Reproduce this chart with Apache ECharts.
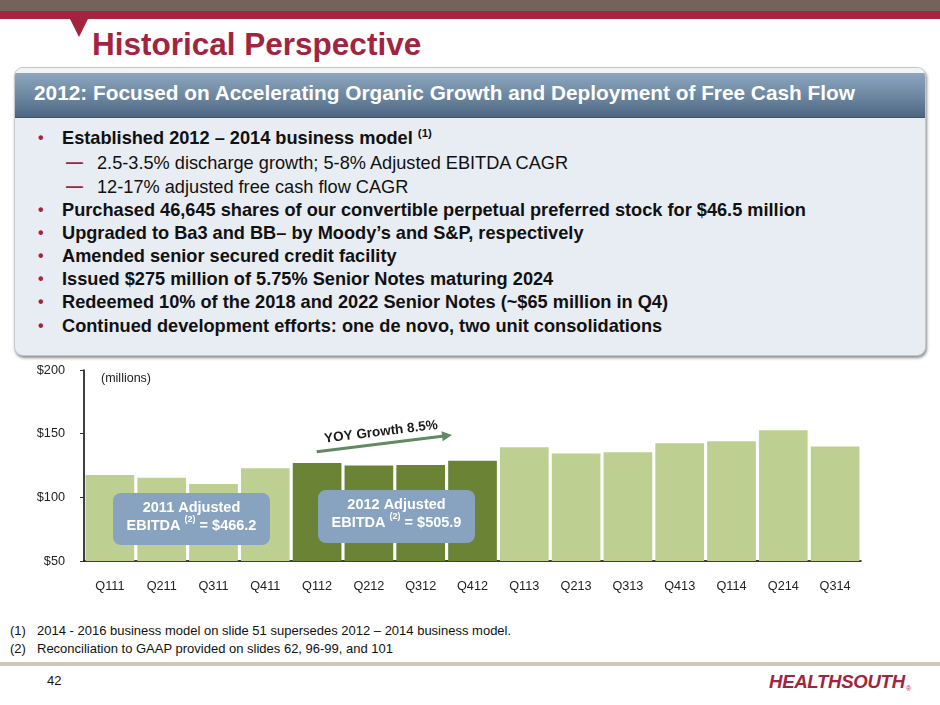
<!DOCTYPE html>
<html>
<head>
<meta charset="utf-8">
<script src="https://cdn.jsdelivr.net/npm/echarts@6/dist/echarts.min.js"></script>
<style>
  html, body { margin:0; padding:0; background:#fff; }
  #slide { position:relative; width:940px; height:705px; overflow:hidden; font-family:"Liberation Sans", Arial, sans-serif; }
  .abs { position:absolute; white-space:nowrap; }
  #bandTop { left:0; top:0; width:940px; height:11px; background:#74635A; }
  #bandRed { left:0; top:11px; width:940px; height:8px; background:#A3243F; }
  #notch { left:70px; top:19px; width:0; height:0; border-left:9px solid transparent; border-right:9px solid transparent; border-top:18px solid #A3243F; }
  #title { left:92px; top:29px; font-size:31.5px; line-height:31px; font-weight:bold; color:#A3243F; }
  #panel { left:14px; top:67px; width:910px; height:287px; background:#E8ECF3; border:1px solid #C4C8CE; border-radius:9px; box-shadow:1px 2px 3px rgba(0,0,0,0.45); overflow:hidden; }
  #panelTop { left:0; top:0; width:910px; height:5px; background:#F2F3F5; }
  #header { left:0; top:5px; width:910px; height:44px; background:linear-gradient(#8CA6C0, #6C86A0 55%, #4E6681); border-bottom:1px solid #3F536A; }
  #headText { left:34px; top:81px; font-size:20.8px; line-height:24px; font-weight:bold; color:#fff; }
  .bl { font-size:18.2px; line-height:24px; font-weight:bold; color:#111; }
  .dot { color:#A3243F; font-size:16px; line-height:24px; font-weight:bold; }
  .sub { font-size:18.2px; line-height:24px; color:#111; }
  .dash { color:#A3243F; font-size:17px; line-height:24px; font-weight:bold; }
  sup { font-size:11.5px; vertical-align:7px; line-height:0; }
  .fn { font-size:13px; line-height:18px; color:#111; }
  #rule { left:0; top:662px; width:940px; height:4px; background:#CFC9B9; }
  #logo { left:769px; top:672px; font-size:18.6px; line-height:20px; font-weight:bold; font-style:italic; color:#A3243F; letter-spacing:-0.3px; }
  #reg { left:906px; top:685px; font-size:7px; line-height:8px; color:#A3243F; }
  #chart { position:absolute; left:0; top:0; width:940px; height:705px; }
</style>
</head>
<body>
<div id="slide">
  <div class="abs" id="bandTop"></div>
  <div class="abs" id="bandRed"></div>
  <div class="abs" id="notch"></div>
  <div class="abs" id="title">Historical Perspective</div>

  <div class="abs" id="panel">
    <div class="abs" id="panelTop"></div>
    <div class="abs" id="header"></div>
  </div>
  <div class="abs" id="headText">2012: Focused on Accelerating Organic Growth and Deployment of Free Cash Flow</div>

  <div class="abs dot" style="left:38px;top:126px;">•</div>
  <div class="abs bl" style="left:62px;top:126px;">Established 2012 – 2014 business model <sup>(1)</sup></div>
  <div class="abs dash" style="left:66px;top:151px;">—</div>
  <div class="abs sub" style="left:97px;top:151px;">2.5-3.5% discharge growth; 5-8% Adjusted EBITDA CAGR</div>
  <div class="abs dash" style="left:66px;top:175px;">—</div>
  <div class="abs sub" style="left:97px;top:175px;">12-17% adjusted free cash flow CAGR</div>
  <div class="abs dot" style="left:38px;top:198px;">•</div>
  <div class="abs bl" style="left:62px;top:198px;">Purchased 46,645 shares of our convertible perpetual preferred stock for $46.5 million</div>
  <div class="abs dot" style="left:38px;top:221px;">•</div>
  <div class="abs bl" style="left:62px;top:221px;">Upgraded to Ba3 and BB– by Moody’s and S&amp;P, respectively</div>
  <div class="abs dot" style="left:38px;top:244px;">•</div>
  <div class="abs bl" style="left:62px;top:244px;">Amended senior secured credit facility</div>
  <div class="abs dot" style="left:38px;top:267px;">•</div>
  <div class="abs bl" style="left:62px;top:267px;">Issued $275 million of 5.75% Senior Notes maturing 2024</div>
  <div class="abs dot" style="left:38px;top:290px;">•</div>
  <div class="abs bl" style="left:62px;top:290px;">Redeemed 10% of the 2018 and 2022 Senior Notes (~$65 million in Q4)</div>
  <div class="abs dot" style="left:38px;top:314px;">•</div>
  <div class="abs bl" style="left:62px;top:314px;">Continued development efforts: one de novo, two unit consolidations</div>

  <div class="abs fn" style="left:10px;top:622px;">(1)</div>
  <div class="abs fn" style="left:37px;top:622px;">2014 - 2016 business model on slide 51 supersedes 2012 – 2014 business model.</div>
  <div class="abs fn" style="left:10px;top:640px;">(2)</div>
  <div class="abs fn" style="left:37px;top:640px;">Reconciliation to GAAP provided on slides 62, 96-99, and 101</div>
  <div class="abs" id="rule"></div>
  <div class="abs fn" style="left:47px;top:672px;">42</div>
  <div class="abs" id="logo">HEALTHSOUTH</div>
  <div class="abs" id="reg">®</div>

  <div id="chart"></div>
</div>
<script>
// ---- data ----
var quarters = ['Q111','Q211','Q311','Q411','Q112','Q212','Q312','Q412','Q113','Q213','Q313','Q413','Q114','Q214','Q314'];
var ebitda = [117.6, 115.3, 110.5, 122.8, 126.9, 125.0, 125.3, 128.7, 139.4, 134.4, 135.4, 142.5, 144.1, 152.7, 139.9];
var highlightYear = '12';
var yTicks = [50, 100, 150, 200];
var box2011 = ['2011 Adjusted', 'EBITDA ', '(2)', ' = $466.2'];
var box2012 = ['2012 Adjusted', 'EBITDA ', '(2)', ' = $505.9'];
var growthLabel = 'YOY Growth 8.5%';
var unitLabel = '(millions)';

var LIGHT = '#BDD092', DARK = '#6A8334', BOX = '#87A3BF', ARROW = '#5F8A63';
var FONT = '"Liberation Sans", Arial, sans-serif';

var chart = echarts.init(document.getElementById('chart'), null, {renderer:'canvas'});

var barData = ebitda.map(function(v, i){
  return { value: v, itemStyle: { color: quarters[i].slice(2) === highlightYear ? DARK : LIGHT } };
});

function boxGraphic(x, y, w, h, lines){
  return [
    { type:'rect', shape:{x:x, y:y, width:w, height:h, r:8}, style:{fill:BOX}, z:10 },
    { type:'text', x:x + w/2, y:y + 14.5, z:11,
      style:{ text:lines[0], fill:'#fff', font:'bold 14.5px ' + FONT, align:'center', verticalAlign:'middle' } },
    { type:'text', x:x + w/2, y:y + 31.5, z:11,
      style:{ text:'{a|' + lines[1] + '}{s|' + lines[2] + '}{a|' + lines[3] + '}', align:'center', verticalAlign:'middle',
        rich:{
          a:{ fill:'#fff', font:'bold 14.5px ' + FONT, verticalAlign:'bottom', lineHeight:18 },
          s:{ fill:'#fff', font:'bold 9px ' + FONT, verticalAlign:'top', lineHeight:18, padding:[0,0,6,0] }
        } } }
  ];
}

var tip = [452, 435], tail = [316.7, 451.7];
var dx = tip[0]-tail[0], dy = tip[1]-tail[1], len = Math.sqrt(dx*dx+dy*dy);
var ux = dx/len, uy = dy/len, px = -uy, py = ux;
var hb = [tip[0]-10*ux, tip[1]-10*uy];

var graphics = [
  { type:'text', x:101, y:379, z:10, style:{ text:unitLabel, fill:'#222', font:'12.5px ' + FONT, verticalAlign:'middle' } },
  { type:'line', z:10, shape:{x1:tail[0], y1:tail[1], x2:hb[0]+2*ux, y2:hb[1]+2*uy}, style:{stroke:ARROW, lineWidth:3} },
  { type:'polygon', z:10, shape:{points:[tip, [hb[0]+5*px, hb[1]+5*py], [hb[0]-5*px, hb[1]-5*py]]}, style:{fill:ARROW} },
  { type:'text', x:381, y:432, rotation: 7*Math.PI/180, z:10,
    style:{ text:growthLabel, fill:'#1A1A1A', font:'bold 13.5px ' + FONT, align:'center', verticalAlign:'middle' } }
].concat(boxGraphic(113, 493, 157, 52, box2011)).concat(boxGraphic(318, 490, 157, 53, box2012));

chart.setOption({
  animation:false,
  backgroundColor:'transparent',
  grid:{ left:84, right:79, top:370, bottom:144, containLabel:false },
  xAxis:{
    type:'category', data:quarters,
    axisLine:{ lineStyle:{ color:'#000', width:1.5 } },
    axisTick:{ alignWithLabel:true, length:5, lineStyle:{ color:'#333' } },
    axisLabel:{ color:'#222', fontSize:12.7, fontFamily:FONT, margin:19, interval:0 }
  },
  yAxis:{
    type:'value', min:yTicks[0], max:yTicks[yTicks.length-1], interval:50,
    axisLine:{ show:true, lineStyle:{ color:'#000', width:1.5 } },
    axisTick:{ show:true, length:4, lineStyle:{ color:'#333' } },
    splitLine:{ show:false },
    axisLabel:{ color:'#222', fontSize:12.7, fontFamily:FONT, margin:19,
      formatter:function(v){ return '$' + v; } }
  },
  series:[{
    type:'bar', data:barData, barCategoryGap:'6%',
    itemStyle:{ borderWidth:0 }
  }],
  graphic: graphics
});
</script>
</body>
</html>
